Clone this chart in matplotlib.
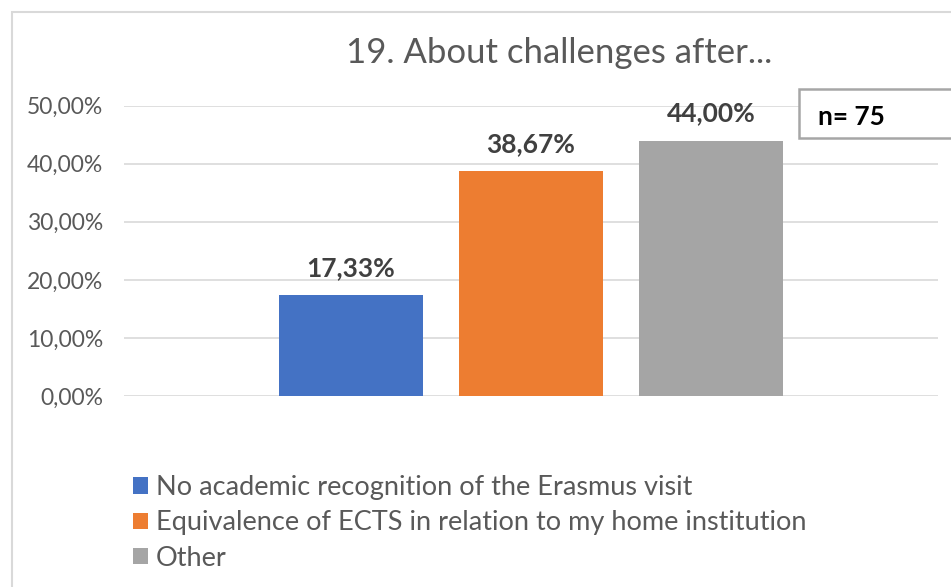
import matplotlib.pyplot as plt
from matplotlib.patches import Rectangle

plt.rcParams['font.family'] = ['Lato', 'DejaVu Sans']

title = "19. About challenges after..."
series = ["No academic recognition of the Erasmus visit",
          "Equivalence of ECTS in relation to my home institution",
          "Other"]
values = [17.33, 38.67, 44.00]
colors = ["#4472C4", "#ED7D31", "#A5A5A5"]
yticks = [0, 10, 20, 30, 40, 50]
n_text = "n= 75"

W, H = 951, 587
fig = plt.figure(figsize=(W / 100, H / 100), dpi=100)

# outer chart border (runs off the right and bottom of the picture)
fig.patches.append(Rectangle((12 / W, -0.1), 1.2, 1 - 12 / H + 0.1,
                             transform=fig.transFigure, fill=False,
                             edgecolor="#D9D9D9", linewidth=1.5))

ax = fig.add_axes([124 / W, 1 - 396 / H, (938 - 124) / W, (396 - 105.7) / H])

spacing = 0.221
width = 0.176
bars = []
for i, (name, v, c) in enumerate(zip(series, values, colors)):
    b = ax.bar((i - 1) * spacing, v, width=width, color=c, label=name, zorder=3)
    bars.append(b)
    ax.annotate(f"{v:.2f}%".replace(".", ","), ((i - 1) * spacing, v),
                xytext=(0, 11), textcoords="offset points",
                ha="center", va="bottom", fontsize=19, fontweight="bold",
                color="#404040")

ax.set_xlim(-0.5, 0.5)
ax.set_ylim(0, 50)
ax.set_yticks(yticks)
ax.set_yticklabels([f"{t:.2f}%".replace(".", ",") for t in yticks])
ax.tick_params(axis="y", length=0, pad=15, labelsize=16.5, labelcolor="#595959")
ax.set_xticks([])
ax.grid(axis="y", color="#D9D9D9", linewidth=1.2, zorder=0)
for s in ax.spines.values():
    s.set_visible(False)

fig.text(559 / W, 1 - 53 / H, title, ha="center", va="center",
         fontsize=25, color="#595959")

# n box
fig.patches.append(Rectangle((799 / W, 1 - 138 / H), 0.3, 49 / H,
                             transform=fig.transFigure, facecolor="white",
                             edgecolor="#A6A6A6", linewidth=1.8, zorder=5))
fig.text(818 / W, 1 - 117 / H, n_text, ha="left", va="center",
         fontsize=19, fontweight="bold", color="black", zorder=6)

fig.legend(handles=[b[0] for b in bars], labels=series,
           loc="upper left", bbox_to_anchor=(133 / W, 1 - 475 / H),
           frameon=False, fontsize=19.5, labelcolor="#595959",
           handlelength=0.55, handleheight=0.55, handletextpad=0.3,
           labelspacing=0.38, borderpad=0, borderaxespad=0)

fig.savefig("out.png", dpi=100)
